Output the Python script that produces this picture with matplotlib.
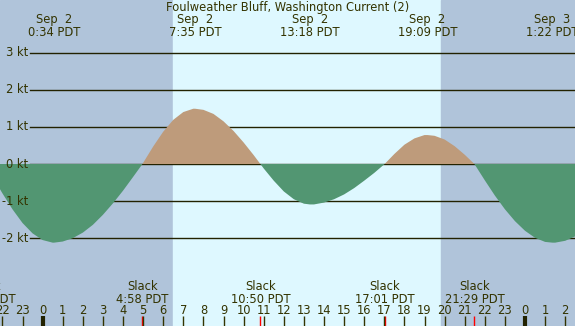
import matplotlib
matplotlib.use("Agg")
import matplotlib.pyplot as plt
import numpy as np

# hours from Sep 2 00:00 PDT, current in knots
hours=[-2.12,-2.0,-1.5,-1.0,-0.5,0.0,0.5,0.567,1.0,1.5,2.0,2.5,3.0,3.5,4.0,4.5,4.967,
       5.5,6.0,6.5,7.0,7.5,7.583,8.0,8.5,9.0,9.5,10.0,10.5,10.833,
       11.0,11.5,12.0,12.5,13.0,13.3,13.5,14.0,14.5,15.0,15.5,16.0,16.5,17.017,
       17.5,18.0,18.5,19.0,19.15,19.5,20.0,20.5,21.0,21.483,
       22.0,22.5,23.0,23.5,24.0,24.5,25.0,25.367,25.5,26.0,26.5]
knots=[-0.68,-0.79,-1.22,-1.59,-1.87,-2.05,-2.12,-2.12,-2.09,-2.00,-1.85,-1.64,-1.37,-1.06,-0.72,-0.35,0.0,
       0.47,0.87,1.19,1.40,1.49,1.49,1.46,1.35,1.15,0.89,0.58,0.24,0.0,
       -0.12,-0.45,-0.74,-0.95,-1.07,-1.09,-1.09,-1.04,-0.95,-0.82,-0.65,-0.45,-0.24,0.0,
       0.27,0.52,0.69,0.78,0.78,0.76,0.66,0.48,0.25,0.0,
       -0.44,-0.85,-1.22,-1.54,-1.80,-1.99,-2.10,-2.12,-2.12,-2.07,-1.95]

peak_times=[0.567,7.583,13.3,19.15,25.367]
peak_labels=["Sep  2\n0:34 PDT","Sep  2\n7:35 PDT","Sep  2\n13:18 PDT","Sep  2\n19:09 PDT","Sep  3\n1:22 PDT"]
slack_times=[-2.82,4.967,10.833,17.017,21.483]
slack_labels=["Slack\n21:11 PDT","Slack\n4:58 PDT","Slack\n10:50 PDT","Slack\n17:01 PDT","Slack\n21:29 PDT"]
sunrise=6.48
sunset=19.82
grid_levels=[3,2,1,0,-1,-2]
title="Foulweather Bluff, Washington Current (2)"

W,H=575,326
x0=-2.12; pxh=20.1      # x pixel 0 and pixels per hour
y0=164; pxk=37.1        # y pixel of 0 kt and pixels per knot
def yv(py):
    return (y0-py)/pxk
xlim=(x0,x0+W/pxh)
fs=8.3

night="#b0c4da"; day="#def8ff"; ebb="#529672"; flood="#be9b7b"; ink="#333300"

fig=plt.figure(figsize=(W/100,H/100),dpi=100)
ax=fig.add_axes([0,0,1,1])
ax.set_xlim(*xlim)
ax.set_ylim(yv(H),yv(0))
ax.axis("off")
ax.axvspan(xlim[0],sunrise,color=night,zorder=0)
ax.axvspan(sunrise,sunset,color=day,zorder=0)
ax.axvspan(sunset,xlim[1],color=night,zorder=0)

t=np.array(hours); v=np.array(knots)
for g in grid_levels:
    ax.axhline(g,xmin=30/W,xmax=1,color="#222200",lw=1,zorder=1)
    ax.text(28/W*(xlim[1]-xlim[0])+xlim[0],g,f"{g} kt",ha="right",va="center",
            fontsize=fs,color=ink,zorder=3)
ax.fill_between(t,v,0,where=v>=0,interpolate=True,color=flood,lw=0,zorder=2)
ax.fill_between(t,v,0,where=v<=0,interpolate=True,color=ebb,lw=0,zorder=2)

ax.text(288/pxh+x0,yv(7),title,ha="center",va="center",fontsize=fs,color=ink,zorder=3)
for pt,lab in zip(peak_times,peak_labels):
    ax.text(pt,yv(26),lab,ha="center",va="center",fontsize=fs,color=ink,
            linespacing=1.0,zorder=3)
for st,lab in zip(slack_times,slack_labels):
    ax.text(st,yv(293),lab,ha="center",va="center",fontsize=fs,color=ink,
            linespacing=1.0,zorder=3)
    ax.vlines(st,yv(H),yv(316),color="red",lw=1,zorder=3)

for h in range(-2,27):
    ax.text(h,yv(311),str(h%24),ha="center",va="center",fontsize=fs,color=ink,zorder=3)
    if h%24==0:
        ax.vlines(h,yv(H),yv(316),color="#222200",lw=3,zorder=3)
    else:
        ax.vlines(h,yv(H),yv(316),color=ink,lw=1,zorder=3)

fig.savefig("out.png",dpi=100)
